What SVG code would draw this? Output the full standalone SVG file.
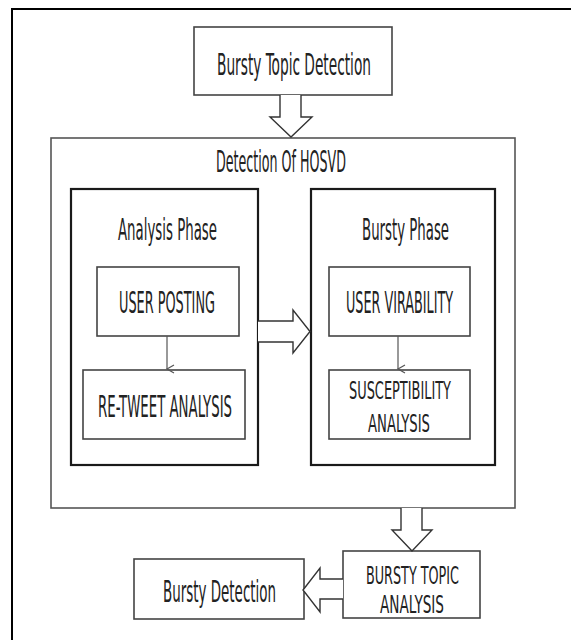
<svg xmlns="http://www.w3.org/2000/svg" width="571" height="640" viewBox="0 0 571 640">
<style>
text{font-family:"Liberation Sans Narrow","DejaVu Sans Condensed","Liberation Sans",sans-serif;font-size:30px;fill:#222;text-anchor:start}
text.sm{font-size:24px}
.box{fill:#fff;stroke:#444;stroke-width:1.6}
.phase{fill:#fff;stroke:#1a1a1a;stroke-width:2.2}
.outer{fill:#fff;stroke:#555;stroke-width:1.6}
.blk{fill:#fff;stroke:#333;stroke-width:1.4;stroke-linejoin:miter}
.thin{stroke:#555;stroke-width:1.2;fill:none}
</style>
<defs>
<marker id="v" markerWidth="10" markerHeight="10" refX="5" refY="8" orient="auto" markerUnits="userSpaceOnUse" viewBox="0 0 10 10">
<path d="M1,1 L5,8 L9,1" fill="none" stroke="#555" stroke-width="1.2"/>
</marker>
</defs>
<rect width="571" height="640" fill="#fff"/>
<path d="M12,640 L12,9 L571,9" fill="none" stroke="#000" stroke-width="2"/>

<g id="hosvd">
<rect class="outer" x="51" y="138" width="464" height="370"/>
<text x="216" y="172" textLength="130" lengthAdjust="spacingAndGlyphs">Detection Of HOSVD</text>
</g>

<g id="top">
<rect class="box" x="194" y="27" width="198" height="68"/>
<text x="217" y="75" textLength="154" lengthAdjust="spacingAndGlyphs">Bursty Topic Detection</text>
</g>

<g id="analysis-phase">
<rect class="phase" x="71" y="189" width="187" height="276"/>
<text x="118" y="240" textLength="99" lengthAdjust="spacingAndGlyphs">Analysis Phase</text>
</g>

<g id="bursty-phase">
<rect class="phase" x="311" y="189" width="184" height="276"/>
<text x="362" y="240" textLength="87" lengthAdjust="spacingAndGlyphs">Bursty Phase</text>
</g>

<g id="user-posting">
<rect class="box" x="97" y="267" width="142" height="69"/>
<text x="119" y="313" textLength="96" lengthAdjust="spacingAndGlyphs">USER POSTING</text>
</g>

<g id="retweet">
<rect class="box" x="83" y="370" width="162" height="69"/>
<text x="98" y="417" textLength="134" lengthAdjust="spacingAndGlyphs">RE-TWEET ANALYSIS</text>
</g>

<g id="user-virability">
<rect class="box" x="329" y="267" width="141" height="69"/>
<text x="346" y="313" textLength="107" lengthAdjust="spacingAndGlyphs">USER VIRABILITY</text>
</g>

<g id="susceptibility">
<rect class="box" x="329" y="370" width="141" height="69"/>
<text class="sm" x="349" y="399" textLength="102" lengthAdjust="spacingAndGlyphs">SUSCEPTIBILITY</text>
<text class="sm" x="368" y="432" textLength="62" lengthAdjust="spacingAndGlyphs">ANALYSIS</text>
</g>

<g id="bursty-topic-analysis">
<rect class="box" x="343" y="551" width="137" height="67"/>
<text class="sm" x="366" y="584" textLength="93" lengthAdjust="spacingAndGlyphs">BURSTY TOPIC</text>
<text class="sm" x="380" y="613" textLength="64" lengthAdjust="spacingAndGlyphs">ANALYSIS</text>
</g>

<g id="bursty-detection">
<rect class="box" x="134" y="559" width="170" height="60"/>
<text x="163" y="602" textLength="113" lengthAdjust="spacingAndGlyphs">Bursty Detection</text>
</g>

<g id="connectors">
<path class="blk" d="M280,95 L280,117 L270,117 L291,137 L312,117 L301,117 L301,95"/>
<path class="blk" d="M258,321 L293,321 L293,310 L310,331.5 L293,353 L293,342 L258,342"/>
<path class="blk" d="M401,508 L401,530 L392,530 L412,551 L432,530 L422,530 L422,508"/>
<path class="blk" d="M343,579 L320,579 L320,568 L303,590 L320,612 L320,599 L343,599"/>
<line class="thin" x1="167" y1="336" x2="167" y2="369" marker-end="url(#v)"/>
<line class="thin" x1="398" y1="336" x2="398" y2="369" marker-end="url(#v)"/>
</g>
</svg>
